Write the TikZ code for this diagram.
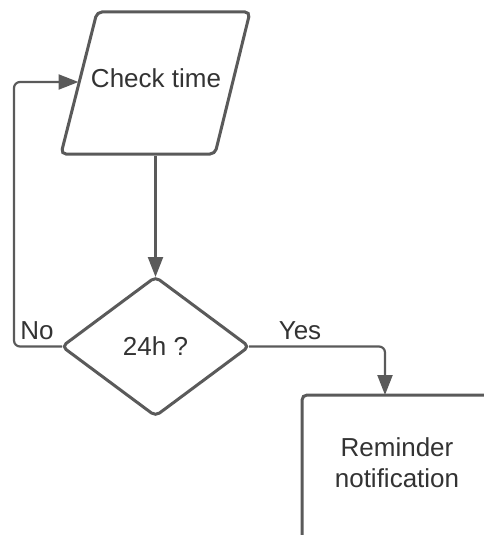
\documentclass[tikz,border=0pt]{standalone}
\usepackage{fontspec}
\setmainfont{Liberation Sans}
\usetikzlibrary{shapes.geometric,arrows.meta}
\definecolor{linegray}{HTML}{5A5A5A}
\definecolor{textgray}{HTML}{333333}
\tikzset{
  txtfont/.style={text=textgray, font=\fontsize{26}{31}\selectfont},
  shapeline/.style={draw=linegray, line width=3pt, rounded corners=5pt, fill=white, inner sep=2pt, outer sep=0pt, txtfont},
  decbox/.style={shapeline, diamond, minimum width=187pt, minimum height=139pt},
  procbox/.style={shapeline, rectangle, minimum width=190pt, minimum height=150pt},
  conn/.style={draw=linegray, line width=2.2pt, rounded corners=6pt, -{Triangle[length=20pt,width=15pt]}},
  txt/.style={txtfont, inner sep=0pt, align=center},
}
\begin{document}
\begin{tikzpicture}[x=1pt,y=-1pt]
\useasboundingbox (0,0) rectangle (484,535);
\clip (0,0) rectangle (484,535);
% parallelogram (input/output)
\coordinate (pTL) at (97,12);
\coordinate (pTR) at (250,12);
\coordinate (pBR) at (215,154);
\coordinate (pBL) at (61,154);
\draw[shapeline] (pTL) -- (pTR) -- (pBR) -- (pBL) -- cycle;
\node[txt] (chk) at (156,78) {Check time};
\coordinate (chkS) at (155.5,155.5);
\coordinate (chkW) at (78.5,82);
\node[decbox] (dia) at (155.5,346.5) {24h ?};
\node[procbox, anchor=north west] (rem) at (302,395) {};
\node[txt] (remt) at (397,463) {Reminder\\notification};
\draw[conn] (chkS) -- (dia.north);
\draw[conn] (dia.west) -- ++(-48,0) |- (chkW);
\draw[conn] (dia.east) -| ([xshift=83pt]rem.north west);
\node[txt] (no) at (37,331) {No};
\node[txt] (yes) at (300,331) {Yes};
\end{tikzpicture}
\end{document}
